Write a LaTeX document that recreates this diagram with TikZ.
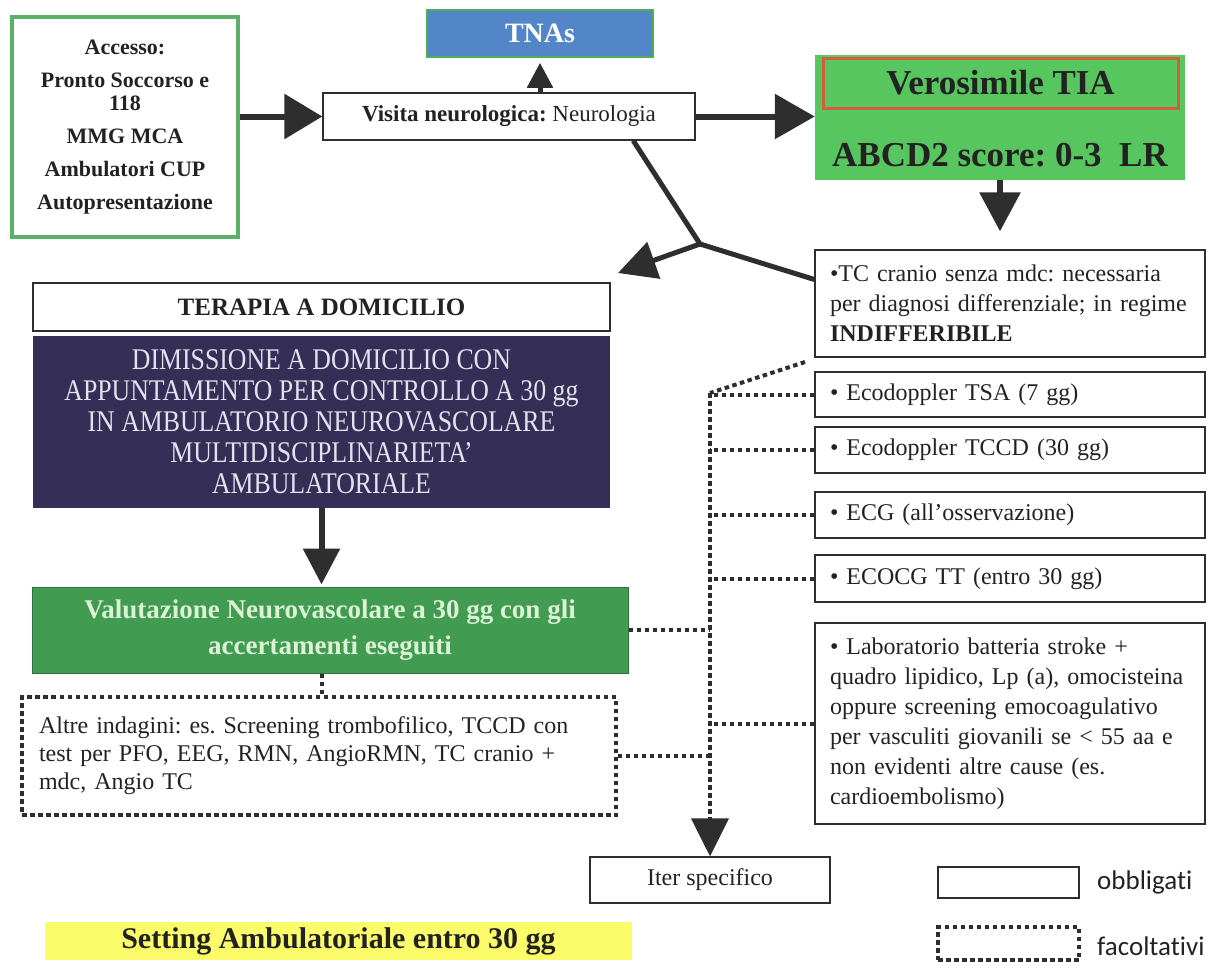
\documentclass[tikz,border=0pt]{standalone}
\usepackage{fontspec}
\setmainfont{Liberation Serif}
\newfontfamily\legendfont[Ligatures=NoCommon]{Carlito}
\newfontfamily\condfont[FakeStretch=0.86]{Liberation Serif}
\usetikzlibrary{arrows.meta,calc}
\definecolor{textcol}{HTML}{222222}
\definecolor{linecol}{HTML}{2E2E2E}
\definecolor{accgreen}{HTML}{5CB06A}
\definecolor{tnasblue}{HTML}{5385C9}
\definecolor{tnasgreen}{HTML}{4CAF50}
\definecolor{vergreen}{HTML}{58C65E}
\definecolor{redline}{HTML}{D0603A}
\definecolor{purplebg}{HTML}{352F57}
\definecolor{purpletext}{HTML}{E4E0EC}
\definecolor{valgreen}{HTML}{419B50}
\definecolor{valborder}{HTML}{2F6F3A}
\definecolor{valtext}{HTML}{DCF2D6}
\definecolor{yellowbg}{HTML}{FCFC6A}
\newcommand\fsz[2]{\fontsize{#1}{#2}\selectfont}
\frenchspacing
\begin{document}
\begin{tikzpicture}[x=1pt,y=-1pt,
  box/.style={draw=linecol, line width=1.3pt, inner sep=0pt, text=textcol},
  rbox/.style={box, text width=360pt, inner xsep=15pt, align=left, font=\fsz{24}{30}, minimum width=390pt},
  dotline/.style={draw=linecol, line width=4pt, dash pattern=on 4.5pt off 3.5pt},
  dotbox/.style={draw=linecol, line width=3.5pt, dash pattern=on 4.5pt off 3.5pt, inner sep=0pt, text=textcol},
  fatline/.style={draw=linecol, line width=6pt},
  midline/.style={draw=linecol, line width=5pt}]
\useasboundingbox (0,0) rectangle (1209,967);

% top row
\node[draw=accgreen, line width=4pt, minimum width=226pt, minimum height=220pt, align=center,
      font=\fsz{22}{33}\bfseries, text=textcol] (acc) at (125,127)
  {Accesso:\\Pronto Soccorso e\\[-10pt]118\\MMG MCA\\Ambulatori CUP\\Autopresentazione};
\node[fill=tnasblue, draw=tnasgreen, line width=1.5pt, minimum width=226pt, minimum height=47pt,
      font=\fsz{28}{30}\bfseries, text=white] (tnas) at (540,33.5) {TNAs};
\node[box, minimum width=372pt, minimum height=47pt, font=\fsz{23}{27}] (vis) at (509,116.5)
  {\textbf{Visita neurologica:} Neurologia};
\node[fill=vergreen, minimum width=370pt, minimum height=125pt] (ver) at (1000,117.5) {};
\node[draw=redline, line width=3pt, minimum width=355pt, minimum height=50pt,
      font=\fsz{35}{40}\bfseries, text=textcol] (vtia) at (1000.5,83) {Verosimile TIA};
\node[font=\fsz{35}{40}\bfseries, text=textcol] (abcd) at (1000,155) {ABCD2 score: 0-3\ \ LR};

% right column
\node[rbox, minimum height=107pt] (tc) at (1010,303.5)
  {\textbullet TC cranio senza mdc: necessaria\\per diagnosi differenziale; in regime\\\textbf{INDIFFERIBILE}};
\node[rbox, minimum height=45pt] (tsa) at (1010,394.5) {\textbullet{} Ecodoppler TSA (7 gg)};
\node[rbox, minimum height=46pt] (tccd) at (1010,450) {\textbullet{} Ecodoppler TCCD (30 gg)};
\node[rbox, minimum height=46pt] (ecg) at (1010,515) {\textbullet{} ECG (all’osservazione)};
\node[rbox, minimum height=47pt] (ecocg) at (1010,578.5) {\textbullet{} ECOCG TT (entro 30 gg)};
\node[rbox, minimum height=201pt] (lab) at (1010,723.5)
  {\textbullet{} Laboratorio batteria stroke +\\quadro lipidico, Lp (a), omocisteina\\oppure screening emocoagulativo\\per vasculiti giovanili se < 55 aa e\\non evidenti altre cause (es.\\cardioembolismo)};
\node[box, minimum width=240pt, minimum height=46pt, font=\fsz{24}{28}] (iter) at (710,880) {Iter specifico};

% left column
\node[box, minimum width=577pt, minimum height=48pt, font=\fsz{25}{30}\bfseries] (ter) at (321.5,307)
  {TERAPIA A DOMICILIO};
\node[fill=purplebg, minimum width=577pt, minimum height=172pt, align=center,
      font=\condfont\fsz{30}{31}, text=purpletext] (dim) at (321.5,422)
  {DIMISSIONE A DOMICILIO CON\\APPUNTAMENTO PER CONTROLLO A 30 gg\\IN AMBULATORIO NEUROVASCOLARE\\MULTIDISCIPLINARIETA’\\AMBULATORIALE};
\node[fill=valgreen, draw=valborder, line width=1pt, minimum width=596pt, minimum height=86pt, align=center,
      font=\fsz{27}{36}\bfseries, text=valtext] (val) at (330,630)
  {Valutazione Neurovascolare a 30 gg con gli\\accertamenti eseguiti};
\node[dotbox, minimum width=594pt, minimum height=118pt, text width=560pt, inner xsep=17pt, align=left,
      font=\fsz{24}{28}] (altre) at (319,756)
  {Altre indagini: es. Screening trombofilico, TCCD con\\test per PFO, EEG, RMN, AngioRMN, TC cranio +\\mdc, Angio TC};
\node[fill=yellowbg, minimum width=587pt, minimum height=38pt, font=\fsz{30}{32}\bfseries, text=textcol] (set) at (338.5,941)
  {Setting Ambulatoriale entro 30 gg};

% legend
\node[box, minimum width=141pt, minimum height=31pt] (lg1) at (1008.5,882.5) {};
\node[anchor=west, inner sep=0pt, font=\legendfont\fsz{27}{30}, text=textcol] (lg1t) at (1097,882) {obbligati};
\node[dotbox, minimum width=141pt, minimum height=33pt] (lg2) at (1008.5,943.5) {};
\node[anchor=west, inner sep=0pt, font=\legendfont\fsz{27}{30}, text=textcol] (lg2t) at (1097,946) {facoltativi};

% solid connectors
\draw[fatline, -{Triangle[length=38pt,width=44pt]}] (vis.west -| acc.east) -- (vis.west);
\draw[fatline, -{Triangle[length=40pt,width=44pt]}] (vis.east) -- (vis.east -| ver.west);
\draw[midline, -{Triangle[length=25pt,width=25pt]}, shorten >=5pt] (tnas.south |- vis.north) -- (tnas.south);
\draw[fatline, -{Triangle[length=39pt,width=40pt]}, shorten >=18pt] (ver.south) -- (ver.south |- tc.north);
\coordinate (jn) at (700,244);
\coordinate (tip) at (618,273);
\draw[midline, line join=round] (vis.-11.5) -- (jn) -- (tc.173.7);
\draw[midline, -{Triangle[length=38pt,width=38pt]}] (jn) -- (tip);
\draw[fatline, -{Triangle[length=36pt,width=36pt]}, shorten >=2pt] (dim.south) -- (dim.south |- val.north);

% dotted connectors
\coordinate (d0) at (805,362);
\coordinate (vtop) at (710,393);
\draw[dotline] (d0) -- (vtop);
\draw[dotline, -{Triangle[length=38pt,width=37pt]}] (vtop) -- (iter.north);
\foreach \b in {tsa,tccd,ecg,ecocg,lab} { \draw[dotline] (\b.west) -- (\b.west -| vtop); }
\draw[dotline] (val.east) -- (val.east -| vtop);
\draw[dotline] (altre.east) -- (altre.east -| vtop);
\draw[dotline] (val.south -| dim.south) -- (altre.north -| dim.south);
\end{tikzpicture}
\end{document}
